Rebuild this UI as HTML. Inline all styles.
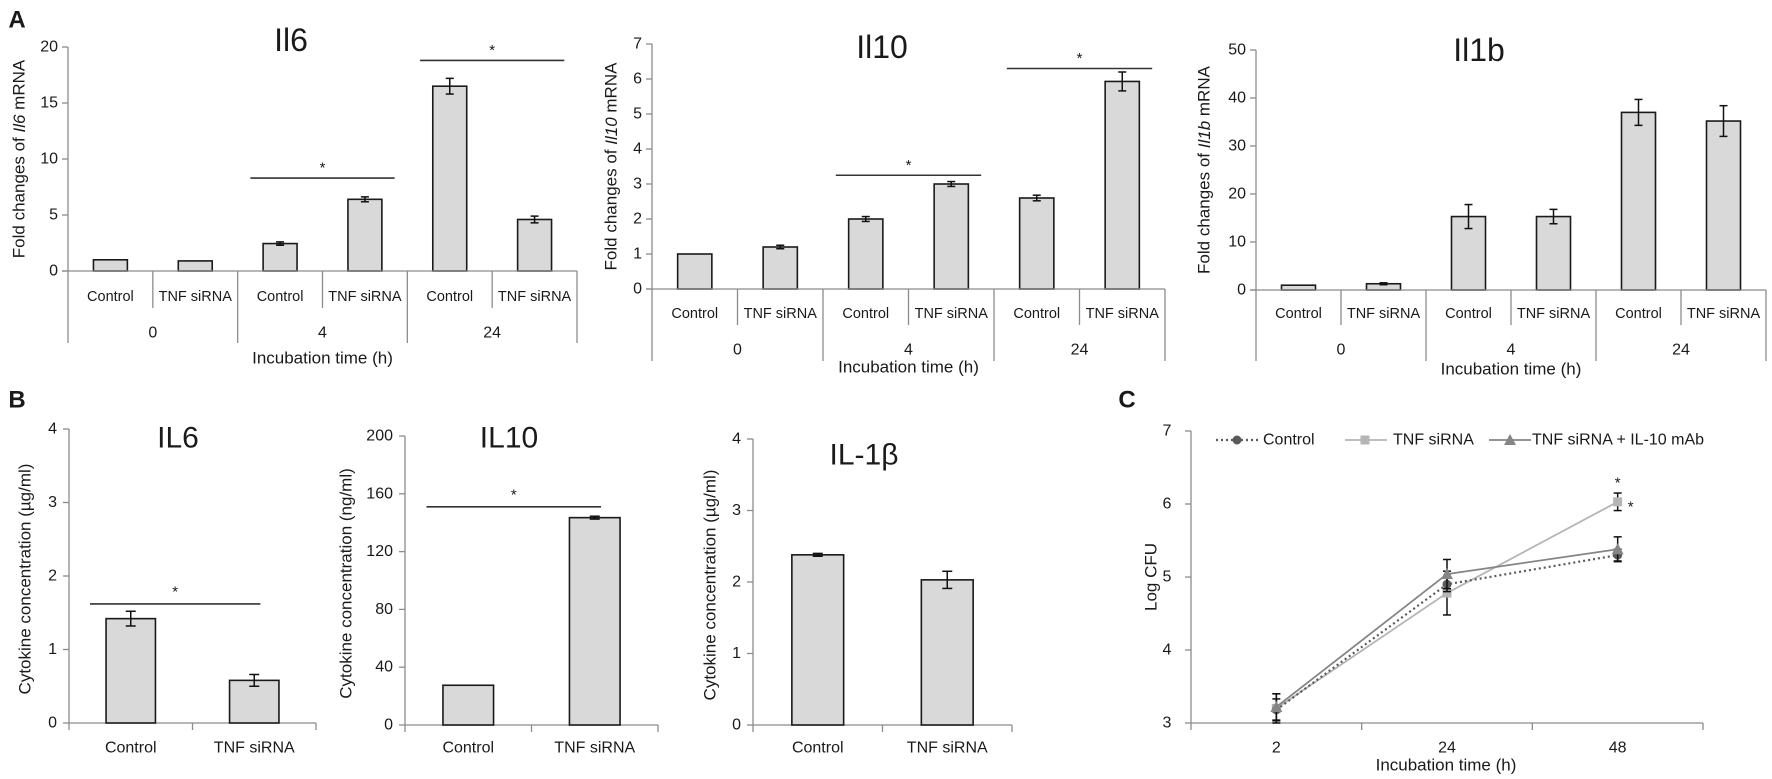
<!DOCTYPE html>
<html><head><meta charset="utf-8">
<style>
html,body{margin:0;padding:0;background:#fff;}
svg{display:block;font-family:"Liberation Sans",sans-serif;}
</style></head>
<body>
<svg id="fig" width="1772" height="779" viewBox="0 0 1772 779" xmlns="http://www.w3.org/2000/svg"></svg>
<script>
// ---- data ----
const cats = ["Control","TNF siRNA","Control","TNF siRNA","Control","TNF siRNA"];
const groups = ["0","4","24"];
const il6Vals = [1.0, 0.9, 2.45, 6.4, 16.5, 4.6];
const il6Err  = [0, 0, 0.15, 0.22, 0.7, 0.3];
const il6Ticks = [0,5,10,15,20];
const il10Vals = [1.0, 1.2, 2.0, 3.0, 2.6, 5.93];
const il10Err  = [0, 0.05, 0.07, 0.07, 0.08, 0.27];
const il10Ticks = [0,1,2,3,4,5,6,7];
const il1bVals = [1.0, 1.3, 15.3, 15.3, 37.0, 35.2];
const il1bErr  = [0, 0.2, 2.5, 1.5, 2.7, 3.2];
const il1bTicks = [0,10,20,30,40,50];

const bCats = ["Control","TNF siRNA"];
const bIl6Vals = [1.42, 0.58];
const bIl6Err = [0.1, 0.08];
const bIl6Ticks = [0,1,2,3,4];
const bIl10Vals = [27.5, 143.5];
const bIl10Err = [0, 1];
const bIl10Ticks = [0,40,80,120,160,200];
const bIl1bVals = [2.38, 2.03];
const bIl1bErr = [0.02, 0.12];
const bIl1bTicks = [0,1,2,3,4];

const cTimes = ["2","24","48"];
const cControl = [3.18, 4.90, 5.30];
const cControlErr = [0.15, 0.1, 0.08];
const cTnf = [3.2, 4.78, 6.03];
const cTnfErr = [0.2, 0.3, 0.12];
const cMab = [3.22, 5.04, 5.38];
const cMabErr = [0.18, 0.2, 0.17];
const cTicks = [3,4,5,6,7];

// ---- helpers ----
const svg = document.getElementById('fig');
const NS = "http://www.w3.org/2000/svg";
function el(tag, attrs, parent){
  const e = document.createElementNS(NS, tag);
  for(const k in attrs) e.setAttribute(k, attrs[k]);
  (parent||svg).appendChild(e);
  return e;
}
function txt(x,y,s,size,anchor,extra){
  const t = el('text',Object.assign({x:x,y:y,'font-size':size,'text-anchor':anchor||'middle',fill:'#1a1a1a','dominant-baseline':'central'},extra||{}));
  t.textContent = s;
  return t;
}
const AX = '#8c8c8c';

function errBar(g,cx,yT,yB,w){
  el('line',{x1:cx,x2:cx,y1:yT,y2:yB,stroke:'#111','stroke-width':1.5},g);
  el('line',{x1:cx-w,x2:cx+w,y1:yT,y2:yT,stroke:'#111','stroke-width':1.5},g);
  el('line',{x1:cx-w,x2:cx+w,y1:yB,y2:yB,stroke:'#111','stroke-width':1.5},g);
}

// grouped bar panel (A)
function panelA(o){
  const g = el('g',{});
  
  
  const maxT = o.ticks[o.ticks.length-1];
  const y = v => o.y0 - (o.y0 - o.yTop) * v / maxT;
  const n = o.vals.length;
  const step = (o.x1 - o.x0)/n;
  // y axis
  const ya = el('line',{x1:o.x0,x2:o.x0,y1:o.yTop,y2:o.y0,stroke:AX,'stroke-width':1.3},g);
  
  
  o.ticks.forEach(t=>{
    el('line',{x1:o.x0-6,x2:o.x0,y1:y(t),y2:y(t),stroke:AX,'stroke-width':1.3},g);
    const tl = txt(o.x0-10,y(t),String(t),16,'end',{});
    
    
  });
  // bars
  o.vals.forEach((v,i)=>{
    const cx = o.x0 + step*(i+0.5), bw = step*0.4;
    const r = el('rect',{x:cx-bw/2,y:y(v),width:bw,height:o.y0-y(v),fill:'#d9d9d9',stroke:'#1a1a1a','stroke-width':1.6},g);
    
    
    if(o.err[i]>0) errBar(g,cx,y(v+o.err[i]),y(v-o.err[i]),4);
    const cl = txt(cx,o.catY,cats[i],14.5,'middle',{});
    
    
  });
  // x axis and separators
  el('line',{x1:o.x0-6,x2:o.x1,y1:o.y0,y2:o.y0,stroke:AX,'stroke-width':1.3},g);
  for(let i=0;i<=n;i++){
    const x = o.x0 + step*i;
    const bottom = (i%2===0) ? o.grpBot : o.catBot;
    el('line',{x1:x,x2:x,y1:o.y0,y2:bottom,stroke:AX,'stroke-width':1.3},g);
  }
  groups.forEach((gname,j)=>{
    const gl = txt(o.x0 + step*(2*j+1), o.grpY, gname, 16,'middle',{});
    
    
  });
  const xt = txt((o.x0+o.x1)/2 + (o.xtOff||0), o.xtY, 'Incubation time (h)', 17,'middle',{});
  
  
  const tt = txt(o.titleX, o.titleY, o.title, 32,'middle',{});
  
  
  // y title
  const yt = el('text',{x:0,y:0,'font-size':17,'text-anchor':'middle',fill:'#1a1a1a','dominant-baseline':'central',transform:`translate(${o.ytX},${(o.yTop+o.y0)/2}) rotate(-90)`},g);
  
  
  yt.innerHTML = 'Fold changes of <tspan font-style="italic">'+o.gene+'</tspan> mRNA';
  // significance
  (o.sig||[]).forEach(s=>{
    const xa = o.x0 + step*(s[0]+0.15), xb = o.x0 + step*(s[1]+0.85);
    const ly = y(s[2]);
    el('line',{x1:xa,x2:xb,y1:ly,y2:ly,stroke:'#333','stroke-width':1.6},g);
    const st = txt((xa+xb)/2, ly-10, '*', 15,'middle',{});
    
    
  });
}

panelA({name:'il6-mrna-chart',title:'Il6',gene:'Il6',vals:il6Vals,err:il6Err,ticks:il6Ticks,
  x0:68,x1:577,y0:271,yTop:47,catY:297,catBot:308,grpY:333,grpBot:343,xtY:358,titleX:291,titleY:40,ytX:19,
  sig:[[2,3,8.3],[4,5,18.8]]});
panelA({name:'il10-mrna-chart',title:'Il10',gene:'Il10',vals:il10Vals,err:il10Err,ticks:il10Ticks,
  x0:652,x1:1165,y0:289,yTop:44,catY:314,catBot:325,grpY:350,grpBot:361,xtY:367,titleX:882,titleY:47,ytX:611,
  sig:[[2,3,3.25],[4,5,6.3]]});
panelA({name:'il1b-mrna-chart',title:'Il1b',gene:'Il1b',vals:il1bVals,err:il1bErr,ticks:il1bTicks,
  x0:1256,x1:1766,y0:290,yTop:50,catY:314,catBot:325,grpY:350,grpBot:361,xtY:369,titleX:1479,titleY:50,ytX:1204});

// simple 2-bar panel (B)
function panelB(o){
  const g = el('g',{});
  
  
  const maxT = o.ticks[o.ticks.length-1];
  const y = v => o.y0 - (o.y0 - o.yTop) * v / maxT;
  const step = (o.x1-o.x0)/o.vals.length;
  el('line',{x1:o.x0,x2:o.x0,y1:o.yTop,y2:o.y0,stroke:AX,'stroke-width':1.3},g);
  o.ticks.forEach(t=>{
    el('line',{x1:o.x0-6,x2:o.x0,y1:y(t),y2:y(t),stroke:AX,'stroke-width':1.3},g);
    const tl = txt(o.x0-12,y(t),String(t),16,'end',{});
    
    
  });
  el('line',{x1:o.x0,x2:o.x1,y1:o.y0,y2:o.y0,stroke:AX,'stroke-width':1.3},g);
  for(let i=0;i<=o.vals.length;i++){
    const x=o.x0+step*i;
    el('line',{x1:x,x2:x,y1:o.y0,y2:o.y0+7,stroke:AX,'stroke-width':1.3},g);
  }
  o.vals.forEach((v,i)=>{
    const cx=o.x0+step*(i+0.5), bw=step*0.4;
    const r = el('rect',{x:cx-bw/2,y:y(v),width:bw,height:o.y0-y(v),fill:'#d9d9d9',stroke:'#1a1a1a','stroke-width':1.6},g);
    
    
    if(o.err[i]>0) errBar(g,cx,y(v+o.err[i]),y(v-o.err[i]),5);
    const cl = txt(cx,748,bCats[i],16,'middle',{});
    
    
  });
  const tt = txt(o.titleX,o.titleY,o.title,30,'middle',{});
  
  
  const yt = el('text',{x:0,y:0,'font-size':17,'text-anchor':'middle',fill:'#1a1a1a','dominant-baseline':'central',transform:`translate(${o.ytX},${(o.yTop+o.y0)/2+3}) rotate(-90)`},g);
  yt.textContent = o.ytitle;
  
  
  if(o.sig){
    const xa=o.x0+step*0.17, xb=o.x0+step*1.55, ly=y(o.sig);
    el('line',{x1:xa,x2:xb,y1:ly,y2:ly,stroke:'#333','stroke-width':1.6},g);
    const st = txt((xa+xb)/2, ly-12, '*', 15,'middle',{});
    
    
  }
}
panelB({name:'il6-protein-chart',title:'IL6',vals:bIl6Vals,err:bIl6Err,ticks:bIl6Ticks,x0:69,x1:316,y0:723,yTop:429,titleX:178,titleY:438,ytX:25,ytitle:'Cytokine concentration (µg/ml)',sig:1.62});
panelB({name:'il10-protein-chart',title:'IL10',vals:bIl10Vals,err:bIl10Err,ticks:bIl10Ticks,x0:405,x1:658,y0:725,yTop:436,titleX:509,titleY:438,ytX:346,ytitle:'Cytokine concentration (ng/ml)',sig:151});
panelB({name:'il1b-protein-chart',title:'IL-1β',vals:bIl1bVals,err:bIl1bErr,ticks:bIl1bTicks,x0:753,x1:1012,y0:725,yTop:439,titleX:864,titleY:455,ytX:710,ytitle:'Cytokine concentration (µg/ml)'});

// panel C line chart
(function(){
  const g = el('g',{});
  
  
  const x0=1191, x1=1703, y0=723, yTop=431;
  const y = v => y0 - (y0-yTop)*(v-3)/4;
  const step=(x1-x0)/3;
  const x = i => x0 + step*(i+0.5);
  el('line',{x1:x0,x2:x0,y1:yTop,y2:y0,stroke:AX,'stroke-width':1.3},g);
  cTicks.forEach(t=>{
    el('line',{x1:x0-6,x2:x0,y1:y(t),y2:y(t),stroke:AX,'stroke-width':1.3},g);
    const tl = txt(1167,y(t),String(t),16,'middle',{});
    
    
  });
  el('line',{x1:x0,x2:x1,y1:y0,y2:y0,stroke:AX,'stroke-width':1.3},g);
  for(let i=0;i<=3;i++) el('line',{x1:x0+step*i,x2:x0+step*i,y1:y0,y2:y0+7,stroke:AX,'stroke-width':1.3},g);
  cTimes.forEach((t,i)=>{
    const l = txt(x(i),748,t,16,'middle',{});
    
    
  });
  const xt = txt(1446,765,'Incubation time (h)',17,'middle',{});
  
  
  const yt = el('text',{x:0,y:0,'font-size':17,'text-anchor':'middle',fill:'#1a1a1a','dominant-baseline':'central',transform:'translate(1151,577) rotate(-90)'},g);
  yt.textContent='Log CFU';
  
  

  const series = [
    {name:'series-tnf-sirna', vals:cTnf, err:cTnfErr, color:'#b5b5b5', dash:'', marker:'sq'},
    {name:'series-control', vals:cControl, err:cControlErr, color:'#5a5a5a', dash:'2,3', marker:'ci'},
    {name:'series-tnf-sirna-il10-mab', vals:cMab, err:cMabErr, color:'#858585', dash:'', marker:'tri'}
  ];
  function marker(gg,m,cx,cy,color){
    if(m==='ci') return el('circle',{cx:cx,cy:cy,r:4.5,fill:color},gg);
    if(m==='sq') return el('rect',{x:cx-4.5,y:cy-4.5,width:9,height:9,fill:color},gg);
    return el('polygon',{points:`${cx},${cy-6} ${cx-6},${cy+5} ${cx+6},${cy+5}`,fill:color},gg);
  }
  series.forEach(s=>{
    const sg = el('g',{},g);
    
    
    const pts = s.vals.map((v,i)=>x(i)+','+y(v)).join(' ');
    const pl = el('polyline',{points:pts,fill:'none',stroke:s.color,'stroke-width':s.dash?2.2:1.8,'stroke-dasharray':s.dash},sg);
    s.vals.forEach((v,i)=>{
      errBar(sg,x(i),y(v+s.err[i]),y(v-s.err[i]),4);
      const mk = marker(sg,s.marker,x(i),y(v),s.color);
      
      
    });
  });
  const s1 = txt(x(2),483,'*',15,'middle',{});
  
  
  const s2 = txt(x(2)+13,507,'*',15,'middle',{});
  
  

  // legend
  const lg = el('g',{},g);
  
  
  const legend = [
    {label:'Control', x1:1216, x2:1259, mx:1237, tx:1263, color:'#5a5a5a', dash:'2,3', m:'ci'},
    {label:'TNF siRNA', x1:1345, x2:1387, mx:1365, tx:1393, color:'#b5b5b5', dash:'', m:'sq'},
    {label:'TNF siRNA + IL-10 mAb', x1:1489, x2:1531, mx:1510, tx:1532, color:'#858585', dash:'', m:'tri'}
  ];
  legend.forEach(l=>{
    const e = el('g',{},lg);
    
    
    el('line',{x1:l.x1,x2:l.x2,y1:440,y2:440,stroke:l.color,'stroke-width':l.dash?2.2:1.8,'stroke-dasharray':l.dash},e);
    marker(e,l.m,l.mx,440,l.color);
    const t = txt(l.tx,440,l.label,16,'start',{});
    e.appendChild(t);
  });
})();

// panel letters
[['A',17,20],['B',17,400],['C',1127,400]].forEach(p=>{
  const t = txt(p[1],p[2],p[0],24,'middle',{'font-weight':'bold'});
  
  
});
</script>
</body></html>
